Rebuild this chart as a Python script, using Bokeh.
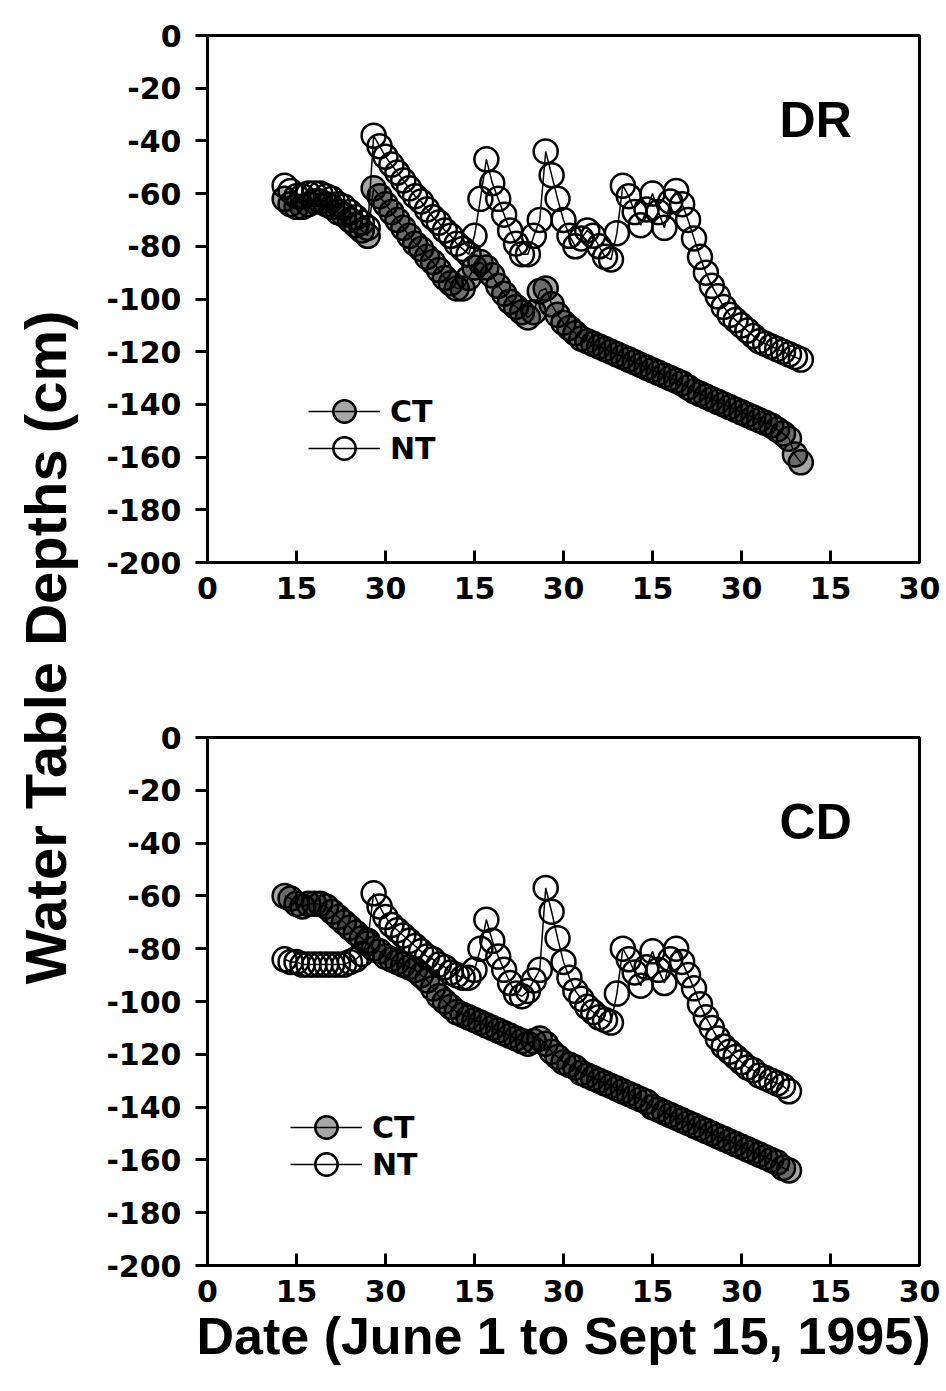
import math
from bokeh.plotting import figure
from bokeh.layouts import column, row
from bokeh.models import Label, Legend, LegendItem, FixedTicker, Range1d
from bokeh.embed import file_html
from bokeh.resources import INLINE

# ---------------- data ----------------
days_dr = list(range(13, 101))
dr_nt = [-57, -59, -61, -61, -60, -60, -60, -61, -62, -64, -65, -67, -69, -71, -73,
         -38, -42, -46, -49, -52, -55, -58, -61, -63, -66, -69, -71, -74, -76, -79,
         -81, -83, -76, -62, -47, -56, -62, -68, -74, -79, -83, -83, -76, -70, -44,
         -53, -62, -70, -76, -80, -77, -74, -76, -80, -84, -85, -75, -57, -61, -67,
         -72, -66, -60, -67, -73, -63, -59, -64, -70, -77, -84, -90, -95, -99, -103,
         -106, -108, -110, -112, -114, -116, -117, -118, -119, -120, -121, -122, -123]
dr_ct = [-62, -64, -65, -65, -64, -63, -63, -64, -65, -67, -68, -70, -72, -74, -76,
         -58, -61, -64, -67, -70, -73, -76, -79, -81, -84, -86, -89, -92, -94, -96,
         -96, -92, -88, -86, -88, -91, -95, -98, -101, -103, -105, -107, -105, -97, -96,
         -102, -106, -109, -111, -113, -115, -116, -117, -118, -119, -120, -121, -122, -123, -124,
         -125, -126, -127, -128, -129, -130, -131, -132, -133.5, -135, -136, -137, -138, -139, -140,
         -141, -142, -143, -144, -145, -146, -147, -148, -149.5, -151, -153, -159, -162]

days_cd = list(range(13, 99))
cd_nt = [-84, -85, -85, -86, -86, -86, -86, -86, -86, -86, -86, -85, -84, -82, -77,
         -59, -64, -68, -71, -73, -75, -77, -79, -81, -83, -84, -86, -87, -89, -90,
         -91, -91, -88, -80, -69, -77, -83, -88, -93, -97, -98, -96, -92, -88, -57,
         -66, -76, -85, -91, -96, -99, -102, -104, -106, -107, -108, -97, -80, -84, -89,
         -94, -87, -81, -88, -93, -84, -80, -85, -90, -95, -101, -106, -110, -114, -117,
         -119, -121, -123, -125, -126, -128, -129, -130, -131, -132, -134]
cd_ct = [-60, -61, -63, -64, -63, -63, -63, -64, -66, -68, -70, -72, -74, -76, -78,
         -80, -81, -83, -84, -85, -86, -87, -88, -90, -92, -95, -98, -100, -102, -104,
         -105, -106, -107, -108, -109, -110, -111, -112, -113, -114, -115, -116, -115, -114, -116,
         -119, -121, -123, -124, -125, -127, -128, -129, -130, -131, -132, -133, -134, -135, -136,
         -137, -138, -140, -141, -142, -143, -144, -145, -146, -147, -148, -149, -150, -151, -152,
         -153, -154, -155, -156, -157, -158, -159, -160, -161, -163, -164]

x_ticks = [0, 15, 30, 45, 60, 75, 90, 105, 120]
x_tick_labels = ["0", "15", "30", "15", "30", "15", "30", "15", "30"]
y_ticks = list(range(-200, 1, 20))
y_tick_labels = [str(v) for v in y_ticks]
panel_names = ["DR", "CD"]
series_names = ["CT", "NT"]
y_title = "Water Table Depths (cm)"
x_title = "Date (June 1 to Sept 15, 1995)"

TICK_FONT = "DejaVu Sans"
TITLE_FONT = "Liberation Sans"


def one_legend(label, renderers, loc):
    return Legend(items=[LegendItem(label=label, renderers=renderers)],
                  location=loc, orientation="vertical",
                  glyph_width=72, glyph_height=56, spacing=0, padding=0, margin=0,
                  label_standoff=10, label_height=30,
                  border_line_alpha=0, background_fill_alpha=0,
                  label_text_font=TICK_FONT, label_text_font_style="bold",
                  label_text_font_size="30px", label_text_color="black")


def make_panel(days, ct, nt, name, top, bottom, leg_x, leg_y_nt, show_xtitle):
    p = figure(frame_width=712, frame_height=528 if show_xtitle else 527,
               x_range=Range1d(0, 120), y_range=Range1d(-200, 0),
               output_backend="svg", toolbar_location=None,
               min_border_left=117, min_border_right=27,
               min_border_top=top, min_border_bottom=bottom)
    p.grid.visible = False
    p.outline_line_color = "black"
    p.outline_line_width = 3
    p.background_fill_color = "white"
    p.border_fill_color = "white"

    xa = p.xaxis[0]
    xa.ticker = FixedTicker(ticks=x_ticks)
    xa.major_label_overrides = {t: l for t, l in zip(x_ticks, x_tick_labels)}
    xa.major_tick_in = 12
    xa.major_tick_out = 0
    xa.minor_tick_in = 0
    xa.minor_tick_out = 0
    xa.major_tick_line_width = 3
    xa.axis_line_width = 3
    xa.major_label_text_font = TICK_FONT
    xa.major_label_text_font_style = "bold"
    xa.major_label_text_font_size = "30px"
    xa.major_label_text_color = "black"
    xa.major_label_standoff = 14
    if show_xtitle:
        xa.axis_label = x_title
        xa.axis_label_text_font = TITLE_FONT
        xa.axis_label_text_font_style = "bold"
        xa.axis_label_text_font_size = "52px"
        xa.axis_label_text_color = "black"
        xa.axis_label_standoff = 2

    ya = p.yaxis[0]
    ya.ticker = FixedTicker(ticks=y_ticks)
    ya.major_label_overrides = {t: l for t, l in zip(y_ticks, y_tick_labels)}
    ya.major_tick_in = 0
    ya.major_tick_out = 12
    ya.minor_tick_in = 0
    ya.minor_tick_out = 0
    ya.major_tick_line_width = 3
    ya.axis_line_width = 3
    ya.major_label_text_font = TICK_FONT
    ya.major_label_text_font_style = "bold"
    ya.major_label_text_font_size = "30px"
    ya.major_label_text_color = "black"
    ya.major_label_standoff = 14

    ct_line = p.line(days, ct, line_color="black", line_width=1.5)
    ct_pts = p.scatter(days, ct, marker="circle", size=24, line_color="black",
                       line_width=2.5, fill_color="black", fill_alpha=0.35)
    nt_line = p.line(days, nt, line_color="black", line_width=1.5)
    nt_pts = p.scatter(days, nt, marker="circle", size=24, line_color="black",
                       line_width=2.5, fill_alpha=0)

    p.add_layout(one_legend(series_names[0], [ct_line, ct_pts], (leg_x, leg_y_nt + 37)))
    p.add_layout(one_legend(series_names[1], [nt_line, nt_pts], (leg_x, leg_y_nt)))

    p.add_layout(Label(x=102.5, y=-32, text=name, text_align="center",
                       text_baseline="middle", text_font=TITLE_FONT,
                       text_font_style="bold", text_font_size="50px",
                       text_color="black"))
    return p


p1 = make_panel(days_dr, dr_ct, dr_nt, panel_names[0], 35, 88, 101, 86, False)
p2 = make_panel(days_cd, cd_ct, cd_nt, panel_names[1], 87, 126, 83, 73, True)

lab = figure(width=90, height=1391, x_range=Range1d(0, 1), y_range=Range1d(0, 1391),
             output_backend="svg", toolbar_location=None,
             min_border=0, min_border_left=0, min_border_right=0,
             min_border_top=0, min_border_bottom=0)
lab.axis.visible = False
lab.grid.visible = False
lab.outline_line_color = None
lab.add_layout(Label(x=0.5, y=1391 - 647, text=y_title, angle=math.pi / 2,
                     text_align="center", text_baseline="middle",
                     text_font=TITLE_FONT, text_font_style="bold",
                     text_font_size="58px", text_color="black"))

layout = row(lab, column(p1, p2, spacing=0), spacing=0)

open("out.html", "w").write(file_html(layout, INLINE))
